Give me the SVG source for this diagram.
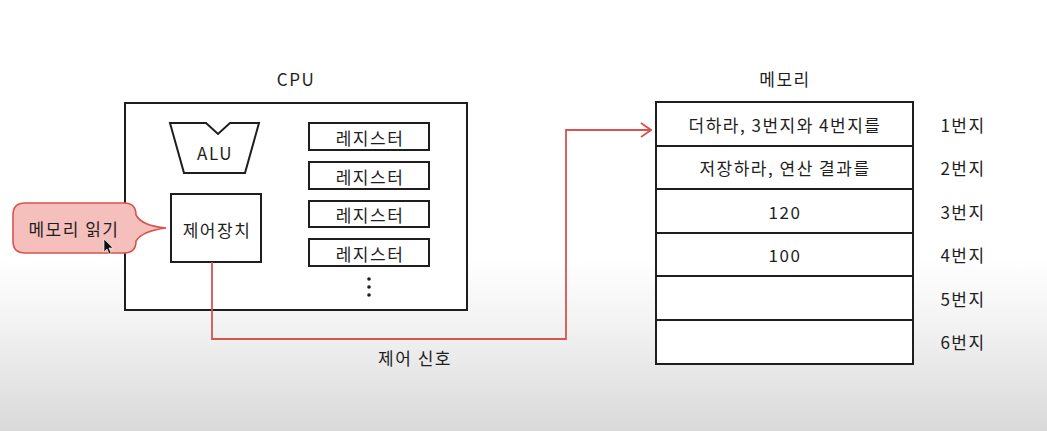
<svg xmlns="http://www.w3.org/2000/svg" width="1047" height="431" viewBox="0 0 1047 431">
<defs>
<linearGradient id="bg" x1="0" y1="0" x2="0" y2="1">
<stop offset="0" stop-color="#ffffff"/>
<stop offset="0.6" stop-color="#ffffff"/>
<stop offset="0.75" stop-color="#f3f3f3"/>
<stop offset="1" stop-color="#d9d9d9"/>
</linearGradient>
<marker id="arr" viewBox="0 0 12 16" refX="11" refY="8" markerWidth="12" markerHeight="16" markerUnits="userSpaceOnUse" orient="auto">
<path d="M1,1 L11,8 L1,15" fill="none" stroke="#d9534f" stroke-width="1.8"/>
</marker>
</defs>
<style>
.box{fill:#ffffff;stroke:#1e1e1e;stroke-width:2}
.t{font-family:"Noto Sans CJK KR","Noto Sans",sans-serif;font-size:17px;letter-spacing:1.5px;fill:#1e1e1e;text-anchor:middle;dominant-baseline:central}
.line{fill:none;stroke:#d9534f;stroke-width:1.8}
</style>
<rect x="0" y="0" width="1047" height="431" fill="url(#bg)"/>

<g id="cpu">
<text class="t" x="296" y="78">CPU</text>
<rect class="box" x="125" y="103" width="342" height="207"/>
</g>

<g id="alu">
<path class="box" d="M170,123 L206,123 L218,134 L230,123 L259,123 L245,173 L184,173 Z"/>
<text class="t" x="215" y="152">ALU</text>
</g>

<g id="control-unit">
<rect class="box" x="171" y="194" width="90" height="68"/>
<text class="t" x="217" y="229">제어장치</text>
</g>

<g id="register-1">
<rect class="box" x="309" y="123" width="120" height="27"/>
<text class="t" x="370" y="137">레지스터</text>
</g>
<g id="register-2">
<rect class="box" x="309" y="162" width="120" height="27"/>
<text class="t" x="370" y="176">레지스터</text>
</g>
<g id="register-3">
<rect class="box" x="309" y="201" width="120" height="26"/>
<text class="t" x="370" y="214">레지스터</text>
</g>
<g id="register-4">
<rect class="box" x="309" y="239" width="120" height="27"/>
<text class="t" x="370" y="253">레지스터</text>
</g>
<g id="register-more">
<circle cx="369" cy="279" r="1.8" fill="#1e1e1e"/>
<circle cx="369" cy="287" r="1.8" fill="#1e1e1e"/>
<circle cx="369" cy="295" r="1.8" fill="#1e1e1e"/>
</g>

<g id="callout">
<path d="M25,203 L124,203 Q136,203 136,215 Q142,226 166,228 Q142,231 136,241 Q136,253 124,253 L25,253 Q13,253 13,241 L13,215 Q13,203 25,203 Z" fill="#f5bfbb" stroke="#d9534f" stroke-width="1.6"/>
<text class="t" x="74" y="228">메모리 읽기</text>
<path d="M104,239 L104,252 L107,249 L109,254 L111,253 L109,248 L113,248 Z" fill="#111" stroke="#fff" stroke-width="0.6"/>
</g>

<g id="memory">
<text class="t" x="785" y="78">메모리</text>
<rect class="box" x="656" y="102" width="257" height="262"/>
</g>
<g id="mem-1">
<line x1="656" y1="146" x2="913" y2="146" stroke="#1e1e1e" stroke-width="2"/>
<text class="t" x="785" y="124">더하라, 3번지와 4번지를</text>
<text class="t" x="963" y="124">1번지</text>
</g>
<g id="mem-2">
<line x1="656" y1="189" x2="913" y2="189" stroke="#1e1e1e" stroke-width="2"/>
<text class="t" x="785" y="167">저장하라, 연산 결과를</text>
<text class="t" x="963" y="167">2번지</text>
</g>
<g id="mem-3">
<line x1="656" y1="233" x2="913" y2="233" stroke="#1e1e1e" stroke-width="2"/>
<text class="t" x="785" y="211">120</text>
<text class="t" x="963" y="211">3번지</text>
</g>
<g id="mem-4">
<line x1="656" y1="276" x2="913" y2="276" stroke="#1e1e1e" stroke-width="2"/>
<text class="t" x="785" y="254">100</text>
<text class="t" x="963" y="254">4번지</text>
</g>
<g id="mem-5">
<line x1="656" y1="320" x2="913" y2="320" stroke="#1e1e1e" stroke-width="2"/>
<text class="t" x="963" y="298">5번지</text>
</g>
<g id="mem-6">
<text class="t" x="963" y="341">6번지</text>
</g>

<g id="connectors">
<path class="line" d="M212,262 L212,339 L566,339 L566,130 L651,130" marker-end="url(#arr)"/>
<text class="t" x="415" y="357">제어 신호</text>
</g>
</svg>
